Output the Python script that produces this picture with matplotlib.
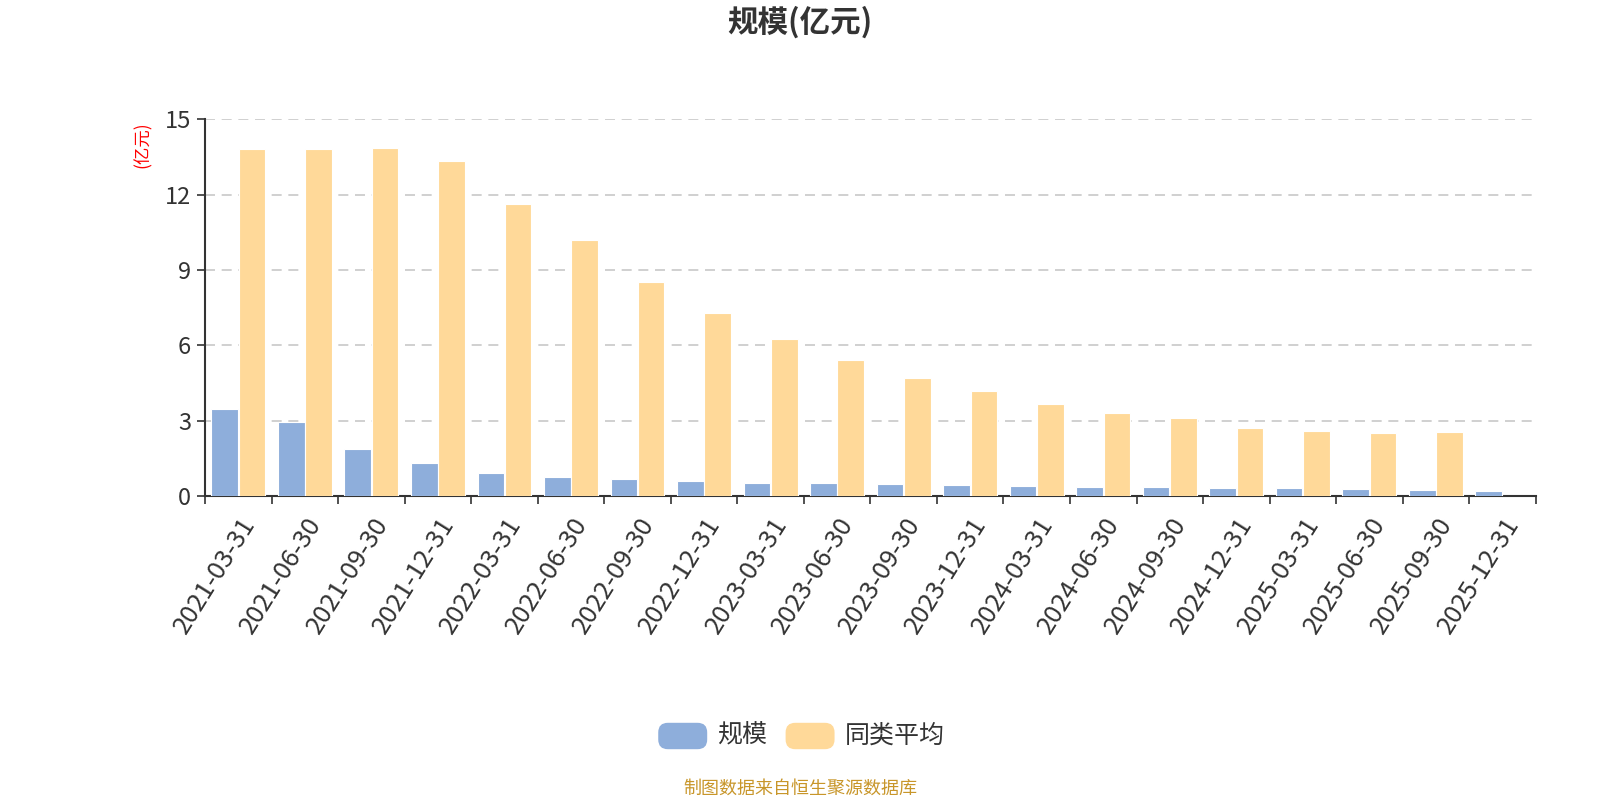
import numpy as np
import matplotlib
matplotlib.use("Agg")
import matplotlib.pyplot as plt
from matplotlib.patches import FancyBboxPatch

plt.rcParams['font.family'] = ['Noto Sans CJK SC', 'DejaVu Sans']

dates = ['2021-03-31', '2021-06-30', '2021-09-30', '2021-12-31',
         '2022-03-31', '2022-06-30', '2022-09-30', '2022-12-31',
         '2023-03-31', '2023-06-30', '2023-09-30', '2023-12-31',
         '2024-03-31', '2024-06-30', '2024-09-30', '2024-12-31',
         '2025-03-31', '2025-06-30', '2025-09-30', '2025-12-31']
scale = [3.48, 2.95, 1.86, 1.30, 0.93, 0.77, 0.66, 0.61, 0.53, 0.51,
         0.47, 0.43, 0.40, 0.37, 0.36, 0.33, 0.31, 0.27, 0.25, 0.21]
peer_avg = [13.82, 13.83, 13.87, 13.34, 11.62, 10.19, 8.54, 7.29, 6.25, 5.43,
            4.71, 4.17, 3.65, 3.31, 3.09, 2.71, 2.57, 2.51, 2.55, np.nan]
yticks = [0, 3, 6, 9, 12, 15]

blue = '#8eaedb'
yellow = '#ffd999'
text_c = '#333333'

fig = plt.figure(figsize=(16, 8), dpi=100)
ax = fig.add_axes([0.1282, 0.380, 0.8316, 0.4708])

x = np.arange(len(dates))
w = 0.4
ax.bar(x - 0.205, scale, w, color=blue, edgecolor='white', linewidth=0.8, label='规模', zorder=3)
ax.bar(x + 0.205, peer_avg, w, color=yellow, edgecolor='white', linewidth=0.8, label='同类平均', zorder=3)

ax.set_xlim(-0.5, len(dates) - 0.5)
ax.set_ylim(0, 15)
ax.set_yticks(yticks)
ax.set_yticklabels([str(v) for v in yticks], fontsize=17, color=text_c)
ax.yaxis.grid(True, linestyle=(0, (6, 4)), color='#c8c8c8', linewidth=1.2, zorder=0)

ax.set_xticks(x)
ax.set_xticklabels(dates, rotation=58, ha='right', rotation_mode='anchor',
                   fontsize=18.5, color=text_c)
ax.tick_params(axis='x', which='major', length=0, pad=12)
ax.set_xticks(np.arange(len(dates) + 1) - 0.5, minor=True)
ax.tick_params(axis='x', which='minor', length=6, width=1.2, color=text_c)
ax.tick_params(axis='y', length=6, width=1.2, color=text_c, pad=4)

for s in ['top', 'right']:
    ax.spines[s].set_visible(False)
for s in ['left', 'bottom']:
    ax.spines[s].set_color(text_c)
    ax.spines[s].set_linewidth(1.5)

ax.text(-0.047, 0.932, '(亿元)', transform=ax.transAxes, rotation=90,
        color='red', fontsize=12.5, ha='center', va='center')

fig.text(0.5, 0.972, '规模(亿元)', ha='center', va='center', fontsize=22,
         fontweight='bold', color=text_c)

# legend drawn as rounded boxes
leg_items = [('规模', blue, 0.4114), ('同类平均', yellow, 0.491)]
for name, col, lx in leg_items:
    fig.patches.append(FancyBboxPatch((lx, 0.0635), 0.0306, 0.033,
                                      boxstyle='round,pad=0,rounding_size=0.006',
                                      transform=fig.transFigure, facecolor=col,
                                      edgecolor='none', mutation_aspect=2))
    fig.text(lx + 0.037, 0.081, name, ha='left', va='center', fontsize=18, color=text_c)

fig.text(0.5, 0.014, '制图数据来自恒生聚源数据库', ha='center', va='center',
         fontsize=13, color='#c8962a')

fig.savefig('out.png', dpi=100, facecolor='white')
